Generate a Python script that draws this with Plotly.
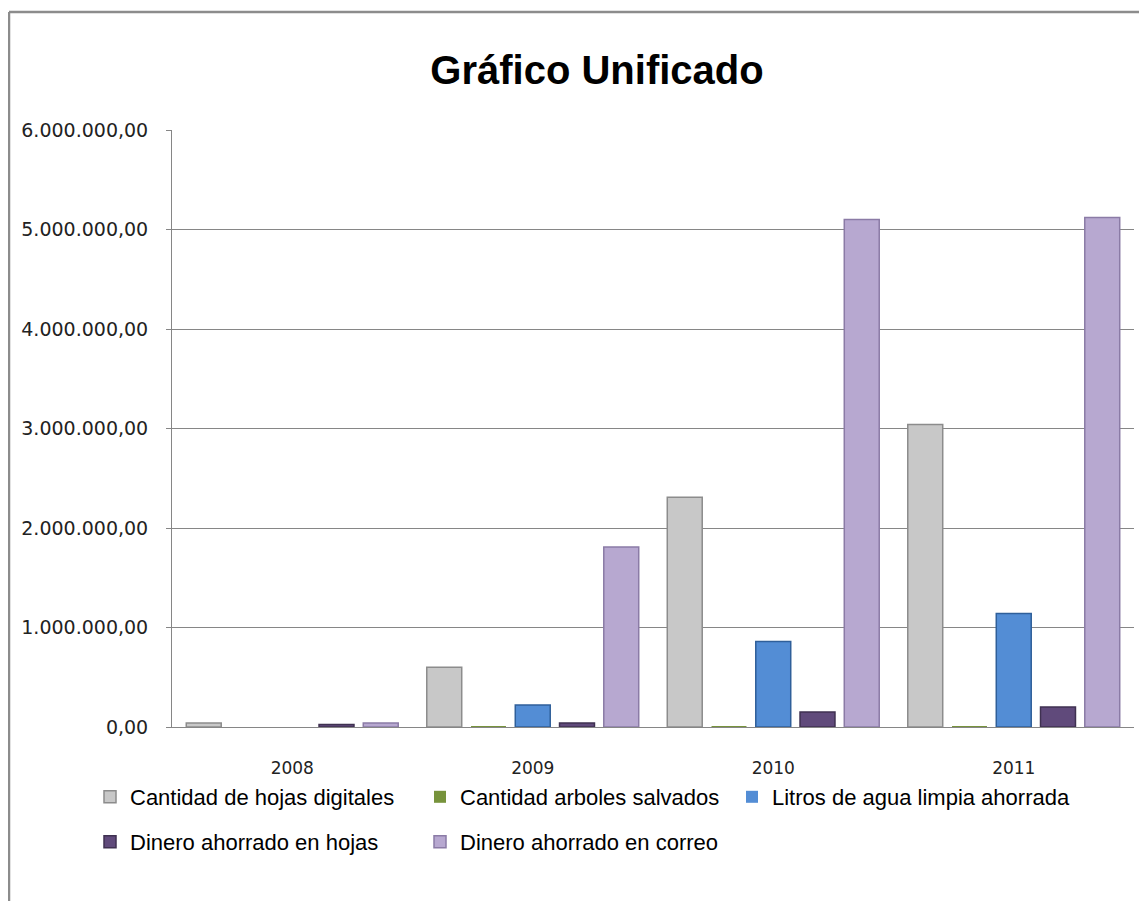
import plotly.graph_objects as go

years = ["2008", "2009", "2010", "2011"]
series_names = [
    "Cantidad de hojas digitales",
    "Cantidad arboles salvados",
    "Litros de agua limpia ahorrada",
    "Dinero ahorrado en hojas",
    "Dinero ahorrado en correo",
]
hojas_digitales = [40000, 600000, 2310000, 3040000]
arboles_salvados = [5, 72, 277, 365]
litros_agua = [0, 220000, 860000, 1140000]
dinero_hojas = [25000, 40000, 150000, 200000]
dinero_correo = [40000, 1810000, 5100000, 5120000]

values = [hojas_digitales, arboles_salvados, litros_agua, dinero_hojas, dinero_correo]
fills = ["#C8C8C8", "#77933C", "#538DD5", "#604A7B", "#B7A8D0"]
edges = ["#8C8C8C", "#4F6228", "#2F5F9A", "#3F3151", "#8B7BA6"]
legend_ids = ["legend", "legend2", "legend3", "legend4", "legend5"]

fig = go.Figure()
for name, vals, fc, ec, lg in zip(series_names, values, fills, edges, legend_ids):
    widths = [1.5 if v > 1000 else 0 for v in vals]
    fig.add_trace(go.Bar(
        x=years, y=vals, name=name,
        marker=dict(color=fc, line=dict(color=ec, width=widths)),
        legend=lg, showlegend=True,
    ))

# page body has an 8px margin: work in figure coordinates (screen - 8)
OFF = 8
W, H = 1147 - OFF, 901 - OFF
L, T = 172 - OFF, 130 - OFF
R = W - (1134 - OFF)
B = H - (727 - OFF)
pw, ph = W - L - R, H - T - B

def px_x(sx):
    return (sx - OFF - L) / pw

def px_y(sy):
    return (H - B - (sy - OFF)) / ph

legend_font = dict(family="Liberation Sans Narrow, Arial Narrow, Liberation Sans, sans-serif",
                   size=22, color="#000000")

# legend item anchor positions (screen px): (left, vertical centre)
legend_pos = [(90, 797), (420, 797), (732, 797), (90, 842), (420, 842)]
legend_layouts = {}
for lg, (lx, ly) in zip(legend_ids, legend_pos):
    legend_layouts[lg] = dict(
        orientation="h", x=px_x(lx), y=px_y(ly), xanchor="left", yanchor="middle",
        xref="paper", yref="paper", font=legend_font,
        bgcolor="rgba(0,0,0,0)",
    )

fig.update_layout(
    width=W, height=H,
    margin=dict(l=L, r=R, t=T, b=B),
    paper_bgcolor="white", plot_bgcolor="white",
    showlegend=True,
    separators=",.",
    barmode="group", bargap=0.08, bargroupgap=0.21,
    title=dict(
        text="<b>Gráfico Unificado</b>",
        x=(597 - OFF) / W, xref="container", xanchor="center",
        y=1 - (70 - OFF) / H, yref="container", yanchor="middle",
        font=dict(family="Liberation Sans Narrow, Arial Narrow, Liberation Sans, sans-serif",
                  size=40, color="#000000"),
    ),
    xaxis=dict(
        showline=True, linecolor="#868686", linewidth=1,
        ticks="", showgrid=False,
        tickfont=dict(family="DejaVu Sans, Verdana, sans-serif", size=17, color="#222222"),
        ticklabelstandoff=26,
    ),
    yaxis=dict(
        range=[0, 6000000], dtick=1000000, tickformat=",.2f",
        showline=True, linecolor="#868686", linewidth=1,
        ticks="outside", ticklen=5, tickcolor="#868686",
        showgrid=True, gridcolor="#868686", gridwidth=1,
        zeroline=False,
        tickfont=dict(family="DejaVu Sans, Verdana, sans-serif", size=19, color="#222222"),
        ticklabelstandoff=14,
    ),
    shapes=[
        dict(type="line", xref="paper", yref="paper",
             x0=px_x(9), x1=px_x(1147 + 5), y0=px_y(12), y1=px_y(12),
             line=dict(color="#8C8C8C", width=2.5)),
        dict(type="line", xref="paper", yref="paper",
             x0=px_x(9), x1=px_x(9), y0=px_y(12), y1=px_y(901 + 5),
             line=dict(color="#8C8C8C", width=2.5)),
    ],
    **legend_layouts,
)

fig.write_html("out.html")
